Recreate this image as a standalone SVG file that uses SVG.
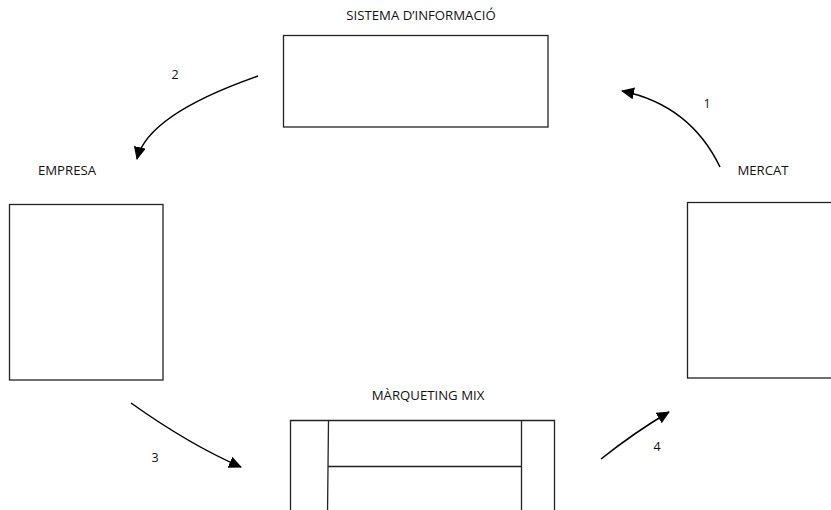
<svg xmlns="http://www.w3.org/2000/svg" width="831" height="510" viewBox="0 0 831 510">
<defs>
<style>
.box{fill:#fff;stroke:#222;stroke-width:1.3}
.ln{fill:none;stroke:#222;stroke-width:1.3}
.lbl{font-family:"Open Sans","Liberation Sans",sans-serif;font-size:13.2px;fill:#111;text-anchor:middle}
.num{font-family:"Open Sans","Liberation Sans",sans-serif;font-size:12.5px;fill:#111;text-anchor:middle}
.arr{fill:none;stroke:#000;stroke-width:1.5;marker-end:url(#ah)}
</style>
<marker id="ah" markerUnits="userSpaceOnUse" markerWidth="14" markerHeight="12" refX="12" refY="6" orient="auto">
<path d="M0,0 L13,6 L0,12 Z" fill="#000"/>
</marker>
</defs>
<rect width="831" height="510" fill="#fff"/>
<g id="sistema">
<rect class="box" x="283.5" y="35.5" width="264.5" height="91.5"/>
<text class="lbl" x="421" y="20">SISTEMA D’INFORMACIÓ</text>
</g>
<g id="empresa">
<rect class="box" x="9.5" y="204.5" width="153.5" height="175.5"/>
<text class="lbl" x="67" y="175">EMPRESA</text>
</g>
<g id="mercat">
<rect class="box" x="687.5" y="202.5" width="150" height="175.5"/>
<text class="lbl" x="763" y="175">MERCAT</text>
</g>
<g id="marqueting">
<path class="ln" d="M290.5,515 V420.5 H554.5 V515"/>
<path class="ln" d="M328.5,420.5 L327.5,515 M521.5,420.5 V515 M328,466.5 H521.5"/>
<text class="lbl" x="428" y="400">MÀRQUETING MIX</text>
</g>
<g id="connectors">
<path class="arr" d="M258,76 C195,98 145,125 137,159"/>
<path class="arr" d="M720,167 Q690,105 622,91"/>
<path class="arr" d="M131,403 Q190,445 241,467"/>
<path class="arr" d="M601,459 Q635,432 669,412"/>
<text class="num" x="175" y="79">2</text>
<text class="num" x="707" y="108">1</text>
<text class="num" x="155" y="462">3</text>
<text class="num" x="657" y="451">4</text>
</g>
</svg>
